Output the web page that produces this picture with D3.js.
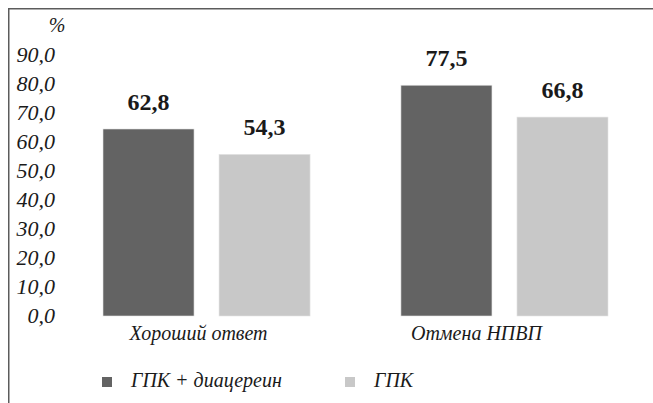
<!DOCTYPE html>
<html>
<head>
<meta charset="utf-8">
<script src="https://cdn.jsdelivr.net/npm/d3@7"></script>
<style>
  body { margin: 0; background: #fff; }
  svg { display: block; }
</style>
</head>
<body>
<svg id="chart" width="653" height="403"></svg>
<script>
// categories and series
const categories = ['Хороший ответ', 'Отмена НПВП']
const seriesNames = ['ГПК + диацереин', 'ГПК']
const combinedValues = [62.8, 77.5]
const gpkValues = [54.3, 66.8]
const yTicks = [0, 10, 20, 30, 40, 50, 60, 70, 80, 90]
const colors = ['#636363', '#c8c8c8']

const FONT = '"Liberation Serif", Tinos'

const fmt = function (v) {
  return v.toFixed(1).replace('.', ',')
}

const svg = d3.select('#chart')

// frame (top + left edges only visible)
svg.append('path')
  .attr('d', 'M8.75,403 L8.75,8.75 L653,8.75')
  .attr('fill', 'none')
  .attr('stroke', '#5c5c5c')
  .attr('stroke-width', 1.5)

const y = d3.scaleLinear().domain([0, 90]).range([316, 48])
// tick labels are spaced a bit tighter than the bars in the original
const yLabel = d3.scaleLinear().domain([0, 90]).range([315, 54])

const x0 = d3.scaleBand().domain(categories).range([103, 608]).paddingInner(0.305)
const x1 = d3.scaleBand().domain(seriesNames).range([0, x0.bandwidth()]).paddingInner(0.2155)

// y tick labels
svg.append('g')
  .selectAll('text')
  .data(yTicks)
  .join('text')
  .attr('x', 55)
  .attr('y', d => yLabel(d))
  .attr('dy', '0.35em')
  .attr('text-anchor', 'end')
  .style('font-family', FONT)
  .style('font-style', 'italic')
  .style('font-size', '22px')
  .style('fill', '#1a1a1a')
  .text(fmt)

svg.append('text')
  .attr('x', 57)
  .attr('y', 25)
  .attr('dy', '0.35em')
  .attr('text-anchor', 'middle')
  .style('font-family', FONT)
  .style('font-style', 'italic')
  .style('font-size', '20px')
  .style('fill', '#1a1a1a')
  .text('%')

// bars
const rows = categories.map((c, i) => ({ cat: c, vals: [combinedValues[i], gpkValues[i]] }))

const groups = svg.append('g')
  .selectAll('g')
  .data(rows)
  .join('g')
  .attr('transform', d => 'translate(' + x0(d.cat) + ',0)')

groups.selectAll('rect')
  .data(d => d.vals.map((v, j) => ({ name: seriesNames[j], v: v, j: j })))
  .join('rect')
  .attr('x', d => x1(d.name))
  .attr('y', d => y(d.v))
  .attr('width', x1.bandwidth())
  .attr('height', d => y(0) - y(d.v))
  .attr('fill', d => colors[d.j])
  .attr('stroke', '#e4e4e4')
  .attr('stroke-width', 0.6)

groups.selectAll('text.val')
  .data(d => d.vals.map((v, j) => ({ name: seriesNames[j], v: v })))
  .join('text')
  .attr('class', 'val')
  .attr('x', d => x1(d.name) + x1.bandwidth() / 2)
  .attr('y', d => y(d.v) - 19)
  .attr('text-anchor', 'middle')
  .style('font-family', FONT)
  .style('font-weight', 'bold')
  .style('font-size', '24px')
  .style('fill', '#1a1a1a')
  .text(d => fmt(d.v))

// category labels (slightly left of group centre, as in the original)
const labelShift = [-8, -28]
svg.append('g')
  .selectAll('text')
  .data(categories)
  .join('text')
  .attr('x', (d, i) => x0(d) + x0.bandwidth() / 2 + labelShift[i])
  .attr('y', 340)
  .attr('text-anchor', 'middle')
  .style('font-family', FONT)
  .style('font-style', 'italic')
  .style('font-size', '20px')
  .style('fill', '#1a1a1a')
  .text(d => d)

// legend
const legendX = [102, 345]
const legend = svg.append('g')
  .selectAll('g')
  .data(seriesNames)
  .join('g')
  .attr('transform', (d, i) => 'translate(' + legendX[i] + ',377)')

legend.append('rect')
  .attr('width', 10)
  .attr('height', 10)
  .attr('fill', (d, i) => colors[i])

legend.append('text')
  .attr('x', 29)
  .attr('y', 10)
  .style('font-family', FONT)
  .style('font-style', 'italic')
  .style('font-size', '20px')
  .style('fill', '#1a1a1a')
  .text(d => d)
</script>
</body>
</html>
